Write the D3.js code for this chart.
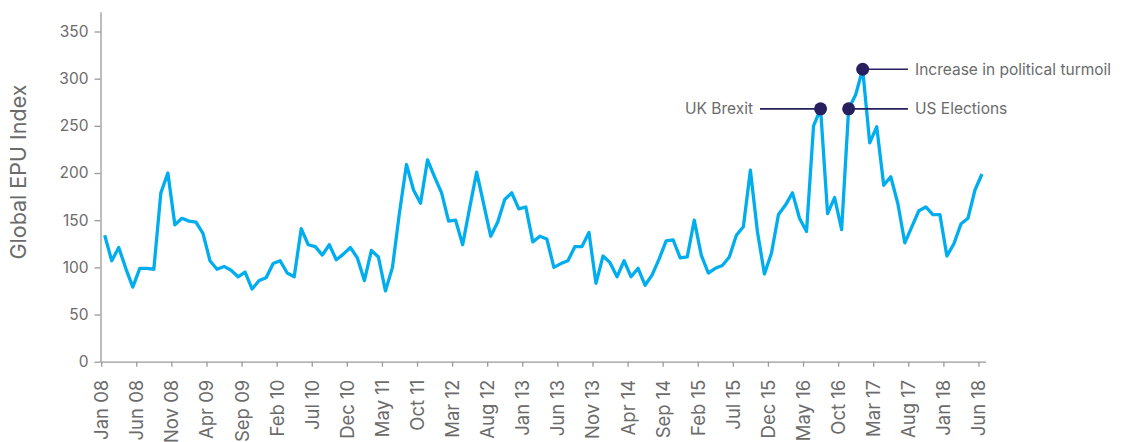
<!DOCTYPE html>
<html>
<head>
<meta charset="utf-8">
<script src="https://cdn.jsdelivr.net/npm/d3@7"></script>
<style>
  html, body { margin: 0; padding: 0; background: #ffffff; }
  svg { display: block; }
</style>
</head>
<body>
<svg id="chart" width="1126" height="442"></svg>
<script>
// Monthly Global EPU Index, Jan 2008 .. Jun 2018 (126 months)
const epuValues = [
  134, 107, 121, 99, 79, 99, 99, 98, 179, 200,
  145, 152, 149, 148, 136, 107, 98, 101, 97, 90,
  95, 77, 86, 89, 104, 107, 94, 90, 141, 124,
  122, 113, 124, 108, 114, 121, 110, 86, 118, 111,
  75, 100, 158, 209, 182, 168, 214, 196, 179, 149,
  150, 124, 163, 201, 167, 133, 148, 172, 179, 162,
  164, 127, 133, 130, 100, 104, 107, 122, 122, 137,
  83, 112, 105, 90, 107, 90, 99, 81, 92, 109,
  128, 129, 110, 111, 150, 113, 94, 99, 102, 111,
  134, 143, 203, 138, 93, 115, 156, 166, 179, 152,
  138, 250, 268, 157, 174, 140, 268, 283, 310, 232,
  249, 187, 196, 168, 126, 143, 160, 164, 156, 156,
  112, 125, 146, 152, 182, 199
];
const tickLabels = [
  "Jan 08", "Jun 08", "Nov 08", "Apr 09", "Sep 09", "Feb 10", "Jul 10",
  "Dec 10", "May 11", "Oct 11", "Mar 12", "Aug 12", "Jan 13", "Jun 13",
  "Nov 13", "Apr 14", "Sep 14", "Feb 15", "Jul 15", "Dec 15", "May 16",
  "Oct 16", "Mar 17", "Aug 17", "Jan 18", "Jun 18"
];
const tickIndices = tickLabels.map((d, k) => k * 5);
const yTicks = [0, 50, 100, 150, 200, 250, 300, 350];
const annotationLabels = ["UK Brexit", "US Elections", "Increase in political turmoil"];
const annotationIndex = [102, 106, 108];
const annotationSide = ["left", "right", "right"];
const yTitle = "Global EPU Index";

const svg = d3.select("#chart");
const FONT = "Inter, 'Liberation Sans', Arial, sans-serif";
const textColor = "#6b6b6b";
const axisColor = "#9a9a9a";

const x = d3.scaleLinear().domain([0, epuValues.length]).range([101.2, 985.5]);
const y = d3.scaleLinear().domain([0, 371]).range([361.7, 11.7]);

// Y axis
const yAxis = svg.append("g")
  .attr("transform", "translate(100.5,0)")
  .call(d3.axisLeft(y).tickValues(yTicks).tickSize(6).tickPadding(6).tickSizeOuter(0));
yAxis.select(".domain").attr("stroke", axisColor).attr("stroke-width", 1.3);
yAxis.selectAll(".tick line").attr("stroke", axisColor).attr("stroke-width", 1.3);
yAxis.selectAll(".tick text")
  .attr("fill", textColor).attr("font-family", FONT).attr("font-size", 15.5);

// X axis
const xAxis = svg.append("g")
  .attr("transform", "translate(0,361.7)")
  .call(d3.axisBottom(x).tickValues(tickIndices)
    .tickFormat((d, k) => tickLabels[k]).tickSize(5).tickSizeOuter(0));
xAxis.select(".domain").attr("stroke", axisColor).attr("stroke-width", 1.3);
xAxis.selectAll(".tick line").attr("stroke", axisColor).attr("stroke-width", 1.3);
xAxis.selectAll(".tick text")
  .attr("fill", textColor).attr("font-family", FONT).attr("font-size", 18.5)
  .attr("text-anchor", "end")
  .attr("transform", "rotate(-90)")
  .attr("x", -18).attr("y", 0).attr("dy", "0.35em");

// Y title
svg.append("text")
  .attr("transform", "translate(26,172) rotate(-90)")
  .attr("text-anchor", "middle")
  .attr("fill", textColor).attr("font-family", FONT).attr("font-size", 21.5)
  .text(yTitle);

// Line
const line = d3.line()
  .x((d, i) => x(i + 0.5))
  .y(d => y(d));
svg.append("path")
  .datum(epuValues)
  .attr("fill", "none")
  .attr("stroke", "#00adef")
  .attr("stroke-width", 3.3)
  .attr("stroke-linejoin", "round")
  .attr("d", line);

// Annotations
const navy = "#26215e";
annotationIndex.forEach((idx, k) => {
  const cx = x(idx + 0.5), cy = y(epuValues[idx]);
  if (annotationSide[k] === "left") {
    svg.append("line").attr("x1", 760).attr("x2", cx).attr("y1", cy).attr("y2", cy)
      .attr("stroke", navy).attr("stroke-width", 1.6);
    svg.append("text").attr("x", 753).attr("y", cy).attr("dy", "0.35em")
      .attr("text-anchor", "end").attr("fill", textColor)
      .attr("font-family", FONT).attr("font-size", 15.5).text(annotationLabels[k]);
  } else {
    svg.append("line").attr("x1", cx).attr("x2", 908).attr("y1", cy).attr("y2", cy)
      .attr("stroke", navy).attr("stroke-width", 1.6);
    svg.append("text").attr("x", 915).attr("y", cy).attr("dy", "0.35em")
      .attr("text-anchor", "start").attr("fill", textColor)
      .attr("font-family", FONT).attr("font-size", 15.5).text(annotationLabels[k]);
  }
  svg.append("circle").attr("cx", cx).attr("cy", cy).attr("r", 6.5).attr("fill", navy);
});
</script>
</body>
</html>
